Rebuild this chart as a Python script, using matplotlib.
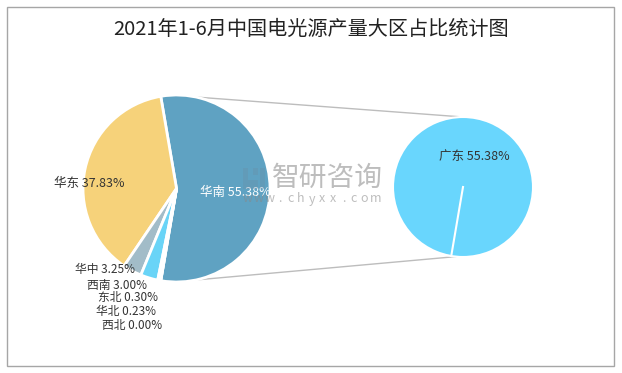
import numpy as np
import matplotlib.pyplot as plt
from matplotlib.patches import Rectangle

plt.rcParams['font.family'] = ['Noto Sans CJK SC', 'DejaVu Sans']

# 数据
regions = ['华南', '华东', '华中', '西南', '东北', '华北', '西北']
shares = [55.38, 37.83, 3.25, 3.00, 0.30, 0.23, 0.00]
sub_regions = ['广东']
sub_shares = [55.38]

colors = ['#5FA2C2', '#F6D27A', '#A2BCC8', '#69D4F7', '#E8A0A0', '#B0D890', '#C0C0C0']
sub_color = '#69D6FD'

W, H = 622, 373
fig = plt.figure(figsize=(W / 100, H / 100), dpi=100)
ax = fig.add_axes([0, 0, 1, 1])

# 左侧大饼图, 华南扇区朝右
c1, r1 = (176.5, H - 188.5), 93.5
start = -shares[0] / 100 * 180
wedges, _ = ax.pie(shares, colors=colors, startangle=start, center=c1, radius=r1,
                   wedgeprops=dict(edgecolor='white', linewidth=2))

# 右侧子饼图
c2, r2 = (463, H - 187), 70
ax.pie([1], colors=[sub_color], startangle=start, center=c2, radius=r2,
       wedgeprops=dict(edgecolor='white', linewidth=1.5))
# 整圆扇区的起始边
a = np.deg2rad(start)
ax.plot([c2[0], c2[0] + r2 * np.cos(a)], [c2[1], c2[1] + r2 * np.sin(a)],
        color='white', lw=1.5, zorder=2)

ax.set_xlim(0, W)
ax.set_ylim(0, H)
ax.set_aspect('equal')
ax.axis('off')

# 连接线
def on_circle(c, r, ang):
    a = np.deg2rad(ang)
    return c[0] + r * np.cos(a), c[1] + r * np.sin(a)

for a1, a2 in [(78, 90), (-78, -96)]:
    p1 = on_circle(c1, r1, a1)
    p2 = on_circle(c2, r2, a2)
    ax.plot([p1[0], p2[0]], [p1[1], p2[1]], color='#BDBDBD', lw=1, zorder=0)

# 标签
txt = '#333333'
ax.text(235, H - 192, f'{regions[0]} {shares[0]:.2f}%', color='white', fontsize=9,
        ha='center', va='center', zorder=3)
ax.text(89, H - 183, f'{regions[1]} {shares[1]:.2f}%', color=txt, fontsize=9,
        ha='center', va='center')
lab_pos = [(105, 270), (117, 286), (128, 298), (126, 311), (132, 325)]
for name, val, (x, y) in zip(regions[2:], shares[2:], lab_pos):
    ax.text(x, H - y, f'{name} {val:.2f}%', color=txt, fontsize=8.5,
            ha='center', va='center')
ax.text(474, H - 156, f'{sub_regions[0]} {sub_shares[0]:.2f}%', color=txt, fontsize=9,
        ha='center', va='center')

# 水印 (图标用方块近似)
for x0, y0, w, h in [(243, 180, 15, 9), (243, 168, 5, 12), (260, 168, 5, 21), (253, 168, 5, 7)]:
    ax.add_patch(Rectangle((x0, H - y0 - h), w, h, color='#6A8FA8', alpha=0.35,
                           lw=0, zorder=4))
ax.text(327, H - 178, '智研咨询', color='#888888', alpha=0.55, fontsize=20,
        ha='center', va='center', zorder=4)
for i, ch in enumerate('www.chyxx.com'):
    ax.text(248 + i * 10.6, H - 199, ch, color='#888888', alpha=0.55, fontsize=9,
            ha='center', va='center', zorder=4)

# 标题
ax.text(W / 2, H - 29, '2021年1-6月中国电光源产量大区占比统计图', fontsize=14.5,
        ha='center', va='center', color='#222222')

# 外框
ax.add_patch(Rectangle((7, H - 366), 607, 359, fill=False, edgecolor='#A6A6A6', lw=1))

fig.savefig('out.png', dpi=100)
